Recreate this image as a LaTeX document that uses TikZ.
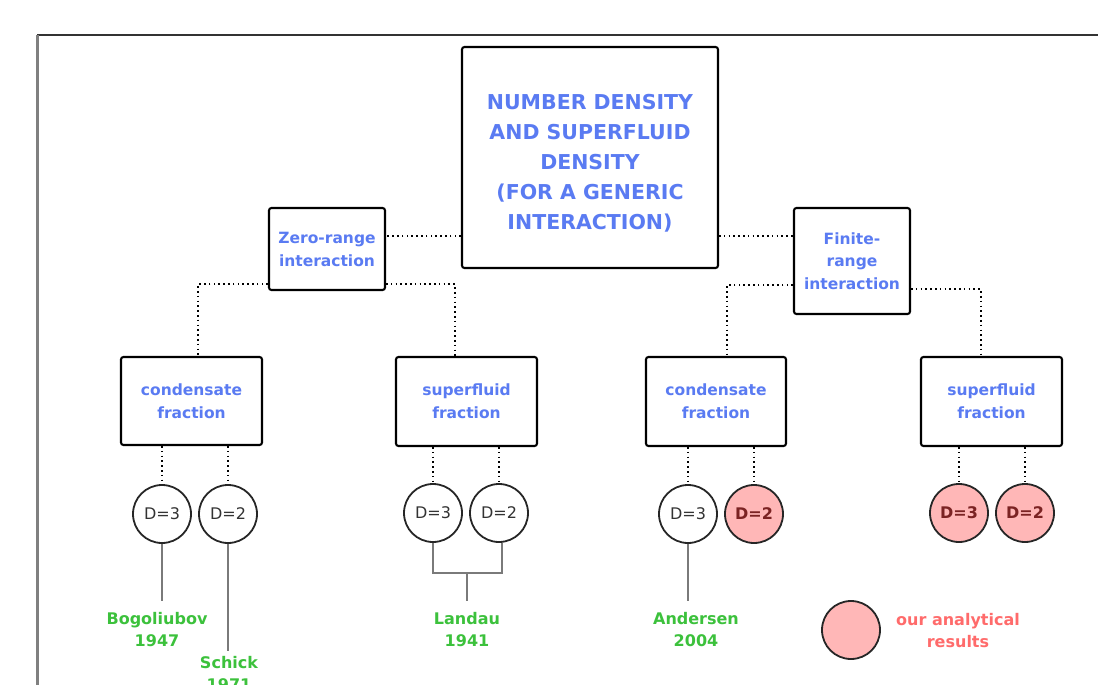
\documentclass[tikz,border=0pt]{standalone}
\usepackage{fontspec}
\setmainfont{DejaVu Sans}
\definecolor{tblue}{HTML}{5A7BF2}
\definecolor{tgreen}{HTML}{3CC13C}
\definecolor{tred}{HTML}{FF6B6B}
\definecolor{pinkfill}{HTML}{FFB7B7}
\definecolor{dred}{HTML}{7B2323}
\definecolor{lgrey}{HTML}{7A7A7A}
\begin{document}
\begin{tikzpicture}[x=1pt,y=-1pt,
  box/.style={draw=black,line width=2.1pt,rounded corners=2.5pt,fill=white,align=center,inner sep=0pt,text=tblue,font=\bfseries\fontsize{15.5}{23}\selectfont},
  dim/.style={draw=black!85,line width=1.8pt,circle,minimum size=58pt,inner sep=0pt,fill=white,text=black!80,font=\fontsize{16}{18}\selectfont},
  ours/.style={dim,fill=pinkfill,text=dred,font=\bfseries\fontsize{16}{18}\selectfont},
  dotl/.style={draw=black,line width=2.3pt,dash pattern=on 1.6pt off 3.2pt},
  gline/.style={draw=lgrey,line width=2.8pt},
  ref/.style={text=tgreen,align=center,inner sep=0pt,font=\bfseries\fontsize{16}{22}\selectfont}]
\useasboundingbox (0,0) rectangle (1098,685);
\clip (0,0) rectangle (1098,685);
% frame
\draw[draw=black!80,line width=2pt] (37,35.5) -- (1098,35.5);
\draw[draw=black!50,line width=2.5pt] (37.5,35) -- (37.5,685);
% nodes
\node[box,minimum width=256pt,minimum height=221pt] (main) at (590,157.5) {};
\node[text=tblue,align=center,inner sep=0pt,font=\bfseries\fontsize{20.5}{30}\selectfont] (maintext) at (590,163)
  {NUMBER DENSITY\\AND SUPERFLUID\\DENSITY\\(FOR A GENERIC\\INTERACTION)};
\node[box,minimum width=116pt,minimum height=82pt] (zero) at (327,249) {Zero-range\\interaction};
\node[box,minimum width=116pt,minimum height=106pt,font=\bfseries\fontsize{15.5}{22.5}\selectfont] (finite) at (852,261) {Finite-\\range\\interaction};
\node[box,minimum width=141pt,minimum height=88pt] (cond1) at (191.5,401) {condensate\\fraction};
\node[box,minimum width=141pt,minimum height=89pt] (sf1) at (466.5,401.5) {superfluid\\fraction};
\node[box,minimum width=140pt,minimum height=89pt] (cond2) at (716,401.5) {condensate\\fraction};
\node[box,minimum width=141pt,minimum height=89pt] (sf2) at (991.5,401.5) {superfluid\\fraction};
% circles
\node[dim] (a3) at (162,514) {D=3};
\node[dim] (a2) at (228,514) {D=2};
\node[dim] (b3) at (433,513) {D=3};
\node[dim] (b2) at (499,513) {D=2};
\node[dim] (c3) at (688,514) {D=3};
\node[ours] (c2) at (754,514) {D=2};
\node[ours] (d3) at (959,513) {D=3};
\node[ours] (d2) at (1025,513) {D=2};
% references
\node[ref] (bog) at (157,630) {Bogoliubov\\1947};
\node[ref] (sch) at (229,674) {Schick\\1971};
\node[ref] (lan) at (467,630) {Landau\\1941};
\node[ref] (and) at (696,630) {Andersen\\2004};
% legend
\node[ours] (leg) at (851,630) {};
\node[text=tred,align=center,inner sep=0pt,font=\bfseries\fontsize{16}{22}\selectfont] (legt) at (958,631) {our analytical\\results};
% dotted connectors
\draw[dotl] ([yshift=33pt]main.south west) coordinate (p1) -- (p1 -| zero.east);
\draw[dotl] ([yshift=33pt]main.south east) coordinate (p2) -- (p2 -| finite.west);
\draw[dotl] ([yshift=7pt]zero.south west) -| ([xshift=6.5pt]cond1.north);
\draw[dotl] ([yshift=7pt]zero.south east) -| ([xshift=-11.5pt]sf1.north);
\draw[dotl] ([yshift=30pt]finite.south west) -| ([xshift=11pt]cond2.north);
\draw[dotl] ([yshift=26pt]finite.south east) -| ([xshift=-10.5pt]sf2.north);
\draw[dotl] (a3.north |- cond1.south) -- (a3.north);
\draw[dotl] (a2.north |- cond1.south) -- (a2.north);
\draw[dotl] (b3.north |- sf1.south) -- (b3.north);
\draw[dotl] (b2.north |- sf1.south) -- (b2.north);
\draw[dotl] (c3.north |- cond2.south) -- (c3.north);
\draw[dotl] (c2.north |- cond2.south) -- (c2.north);
\draw[dotl] (d3.north |- sf2.south) -- (d3.north);
\draw[dotl] (d2.north |- sf2.south) -- (d2.north);
% solid grey connectors
\draw[gline] (a3.south) -- ([yshift=12pt]a3.south |- bog.north);
\draw[gline] (a2.south) -- ([yshift=6pt]a2.south |- sch.north);
\coordinate (lj) at (467,573);
\draw[gline] (b3.south) |- (lj) -| ([xshift=3pt]b2.south);
\draw[gline] (lj) -- ([yshift=12pt]lan.north);
\draw[gline] (c3.south) -- ([yshift=12pt]c3.south |- and.north);
\end{tikzpicture}
\end{document}
